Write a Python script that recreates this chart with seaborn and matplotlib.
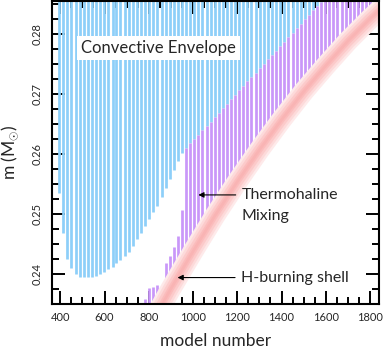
import numpy as np
import matplotlib
matplotlib.use("Agg")
import matplotlib.pyplot as plt
import seaborn as sns
from matplotlib.ticker import MultipleLocator, FormatStrFormatter

nan = np.nan

# model numbers of the sampled stripes
model = [395, 414, 432, 450, 469, 488, 506, 524, 543, 562,
         580, 598, 617, 636, 654, 672, 691, 710, 728, 746,
         765, 784, 802, 820, 839, 858, 876, 894, 913, 932,
         950, 968, 987, 1006, 1024, 1042, 1061, 1080, 1098, 1116,
         1135, 1154, 1172, 1190, 1209, 1228, 1246, 1264, 1283, 1302,
         1320, 1338, 1357, 1376, 1394, 1412, 1431, 1450, 1468, 1486,
         1505, 1524, 1542, 1560, 1579, 1598, 1616, 1634, 1653, 1672,
         1690, 1708, 1727, 1746, 1764, 1782, 1801, 1820, 1838]

# base of the convective envelope (M_sun); nan = above the plotted range
env_base = [0.2535, 0.2468, 0.2426, 0.2410, 0.2400, 0.2396, 0.2395, 0.2395, 0.2395, 0.2397,
            0.2400, 0.2404, 0.2408, 0.2412, 0.2418, 0.2423, 0.2430, 0.2437, 0.2447, 0.2458,
            0.2469, 0.2480, 0.2492, 0.2503, 0.2514, 0.2528, 0.2543, 0.2558, 0.2574, 0.2589,
            0.2602, 0.2610, 0.2618, 0.2625, 0.2632, 0.2640, 0.2647, 0.2654, 0.2662, 0.2669,
            0.2676, 0.2684, 0.2691, 0.2699, 0.2706, 0.2713, 0.2721, 0.2728, 0.2735, 0.2743,
            0.2750, 0.2758, 0.2765, 0.2772, 0.2780, 0.2787, 0.2794, 0.2802, 0.2809, 0.2816,
            0.2824, 0.2831, 0.2839, 0.2846, 0.2853, nan, nan, nan, nan, nan,
            nan, nan, nan, nan, nan, nan, nan, nan, nan]
env_top = 0.2900

# thermohaline mixing region (top / bottom, M_sun)
th_top = [nan, nan, nan, nan, nan, nan, nan, nan, nan, nan,
          nan, nan, nan, nan, nan, nan, nan, nan, nan, nan,
          nan, 0.2358, 0.2377, 0.2378, 0.2382, nan, 0.2418, 0.2430, 0.2445, 0.2463,
          0.2507, 0.2610, 0.2618, 0.2625, 0.2632, 0.2640, 0.2647, 0.2654, 0.2662, 0.2669,
          0.2676, 0.2684, 0.2691, 0.2699, 0.2706, 0.2713, 0.2721, 0.2728, 0.2735, 0.2743,
          0.2750, 0.2758, 0.2765, 0.2772, 0.2780, 0.2787, 0.2794, 0.2802, 0.2809, 0.2816,
          0.2824, 0.2831, 0.2839, 0.2846, 0.2853, 0.2900, 0.2900, 0.2900, 0.2900, 0.2900,
          0.2900, 0.2900, 0.2900, 0.2900, 0.2900, 0.2900, 0.2900, 0.2900, 0.2900]
th_bottom = [nan, nan, nan, nan, nan, nan, nan, nan, nan, nan,
             nan, nan, nan, nan, nan, nan, nan, nan, nan, nan,
             nan, 0.2299, 0.2311, 0.2324, 0.2336, nan, 0.2360, 0.2372, 0.2384, 0.2396,
             0.2407, 0.2419, 0.2430, 0.2442, 0.2453, 0.2464, 0.2475, 0.2486, 0.2497, 0.2507,
             0.2518, 0.2528, 0.2539, 0.2549, 0.2559, 0.2569, 0.2579, 0.2589, 0.2598, 0.2608,
             0.2618, 0.2627, 0.2636, 0.2645, 0.2654, 0.2663, 0.2672, 0.2681, 0.2689, 0.2698,
             0.2706, 0.2715, 0.2723, 0.2731, 0.2739, 0.2747, 0.2754, 0.2762, 0.2769, 0.2777,
             0.2784, 0.2791, 0.2798, 0.2805, 0.2812, 0.2819, 0.2826, 0.2832, 0.2839]

# H-burning shell (centre)
shell_model = [750, 800, 900, 1000, 1100, 1200, 1300, 1400, 1500, 1600, 1700, 1800, 1900]
shell_m = [0.2276, 0.2310, 0.2376, 0.2438, 0.2498, 0.2554, 0.2607, 0.2657,
           0.2704, 0.2747, 0.2788, 0.2825, 0.2859]

xticks = [400, 600, 800, 1000, 1200, 1400, 1600, 1800]
yticks = [0.24, 0.25, 0.26, 0.27, 0.28]

sns.set_theme(style="ticks")
plt.rcParams['font.family'] = ['Lato', 'DejaVu Sans']
plt.rcParams['mathtext.fontset'] = 'custom'
plt.rcParams['mathtext.rm'] = 'Lato'

fig = plt.figure(figsize=(3.83, 3.48), dpi=100)
ax = fig.add_axes([52 / 383, 1 - 304.3 / 348, (379.3 - 52) / 383, (304.3 - 0.8) / 348])

blue = '#8dcff9'
purple = '#c997f9'

m_arr = np.array(model, dtype=float)
eb = np.array(env_base)
ok = ~np.isnan(eb)
ax.vlines(m_arr[ok], eb[ok], env_top, colors=blue, linewidth=1.95, capstyle='butt')

tt = np.array(th_top)
tb = np.array(th_bottom)
ok2 = ~np.isnan(tt)
ax.vlines(m_arr[ok2], tb[ok2], tt[ok2], colors=purple, linewidth=1.95, capstyle='butt')

band_layers = [(15, '#feeaea'), (11.5, '#fddada'), (8, '#fccaca'), (4.5, '#fbbcbc'), (2, '#f9b4b4')]
for lw, col in band_layers:
    sns.lineplot(x=shell_model, y=shell_m, ax=ax, color=col, linewidth=lw,
                 solid_joinstyle='round', solid_capstyle='butt', sort=False, estimator=None)

ax.set_xlim(362.5, 1842)
ax.set_ylim(0.2350, 0.2855)

ax.xaxis.set_minor_locator(MultipleLocator(50))
ax.yaxis.set_minor_locator(MultipleLocator(0.0025))
ax.set_xticks(xticks)
ax.set_yticks(yticks)
ax.yaxis.set_major_formatter(FormatStrFormatter('%.2f'))

for s in ax.spines.values():
    s.set_linewidth(1.5)
    s.set_color('black')
    s.set_visible(True)
ax.tick_params(which='both', direction='in', top=True, right=True, color='black', width=1.4)
ax.tick_params(which='major', length=9.5)
ax.tick_params(which='minor', length=4.8)
ax.tick_params(axis='x', which='major', labelsize=8, pad=5.5)
ax.tick_params(axis='y', which='major', labelsize=8, pad=7, labelrotation=90)
for lab in ax.get_yticklabels():
    lab.set_va('center')

ax.set_xlabel('model number', fontsize=12.5, labelpad=7)
ax.set_ylabel(r'm (M$_{\odot}$)', fontsize=12.5, labelpad=8)

ax.text(845, 0.2776, 'Convective Envelope', fontsize=12, ha='center', va='center',
        bbox=dict(boxstyle='square,pad=0.25', facecolor='white', edgecolor='none'), zorder=5)

ax.annotate('', xy=(1024, 0.2532), xytext=(1193, 0.2532),
            arrowprops=dict(arrowstyle='-|>', color='black', lw=0.8, mutation_scale=8, shrinkA=0, shrinkB=0))
ax.text(1220, 0.2532, 'Thermohaline', fontsize=11.5, ha='left', va='center')
ax.text(1220, 0.2497, 'Mixing', fontsize=11.5, ha='left', va='center')
ax.annotate('', xy=(930, 0.23945), xytext=(1190, 0.23945),
            arrowprops=dict(arrowstyle='-|>', color='black', lw=0.8, mutation_scale=8, shrinkA=0, shrinkB=0))
ax.text(1217, 0.23945, 'H-burning shell', fontsize=11.5, ha='left', va='center')

fig.savefig('out.png', dpi=100)
